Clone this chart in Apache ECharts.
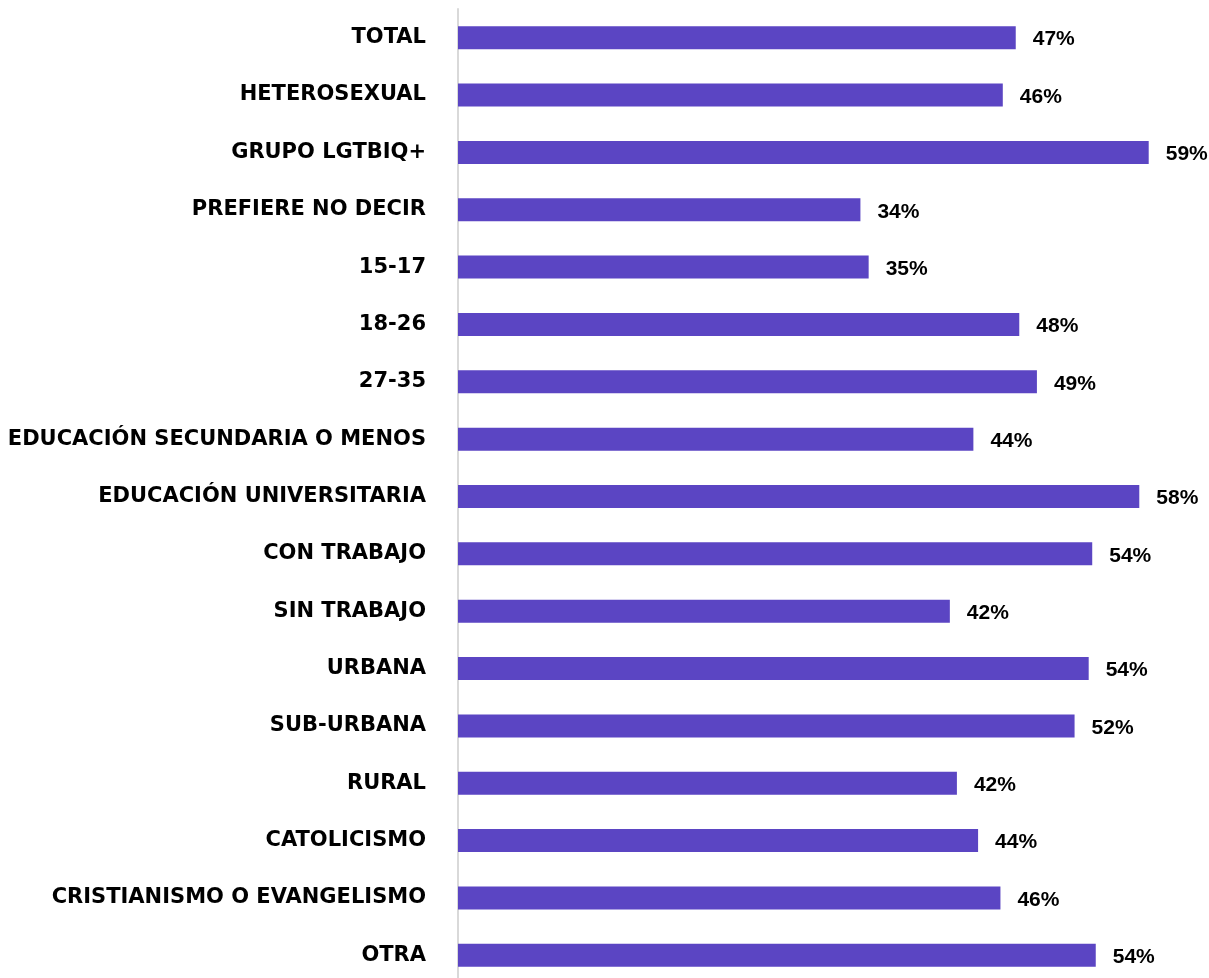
<!DOCTYPE html>
<html>
<head>
<meta charset="utf-8">
<script src="https://cdn.jsdelivr.net/npm/echarts@6/dist/echarts.min.js"></script>
<style>
  html, body { margin: 0; padding: 0; background: #fff; overflow: hidden; }
  #chart { width: 1209px; height: 990px; }
</style>
</head>
<body>
<div id="chart"></div>
<script>
// ======================
// DATA
// ======================

const categories = [
    'TOTAL',
    'HETEROSEXUAL',
    'GRUPO LGTBIQ+',
    'PREFIERE NO DECIR',
    '15-17',
    '18-26',
    '27-35',
    'EDUCACIÓN SECUNDARIA O MENOS',
    'EDUCACIÓN UNIVERSITARIA',
    'CON TRABAJO',
    'SIN TRABAJO',
    'URBANA',
    'SUB-URBANA',
    'RURAL',
    'CATOLICISMO',
    'CRISTIANISMO O EVANGELISMO',
    'OTRA'
];

// percentages (labels show them rounded)
const values = [
    47.4, 46.3, 58.7, 34.2, 34.9, 47.7, 49.2, 43.8, 57.9,
    53.9, 41.8, 53.6, 52.4, 42.4, 44.2, 46.1, 54.2
];

const xMax = 60;

// ======================
// CHART
// ======================

// div is a bit taller than the window so the last row keeps its spacing
const chart = echarts.init(document.getElementById('chart'));

chart.setOption({
    animation: false,
    grid: {
        left: 458,
        top: 9,
        width: 706,
        height: 975
    },
    xAxis: {
        type: 'value',
        min: 0,
        max: xMax,
        show: false
    },
    yAxis: {
        type: 'category',
        data: categories,
        inverse: true,
        axisLine: {
            show: true,
            lineStyle: { color: '#d9d9d9', width: 2 }
        },
        axisTick: { show: false },
        axisLabel: {
            margin: 32,
            padding: [3, 0, 0, 0],
            color: '#000',
            fontFamily: 'DejaVu Sans',
            fontWeight: 'bold',
            fontSize: 21
        }
    },
    series: [
        {
            type: 'bar',
            data: values,
            barWidth: 23,
            itemStyle: { color: '#5b45c3' },
            label: {
                show: true,
                position: 'right',
                distance: 17,
                offset: [0, 2],
                color: '#000',
                fontFamily: 'Liberation Sans',
                fontWeight: 'bold',
                fontSize: 21,
                formatter: p => Math.round(p.value) + '%'
            }
        }
    ]
});
</script>
</body>
</html>
